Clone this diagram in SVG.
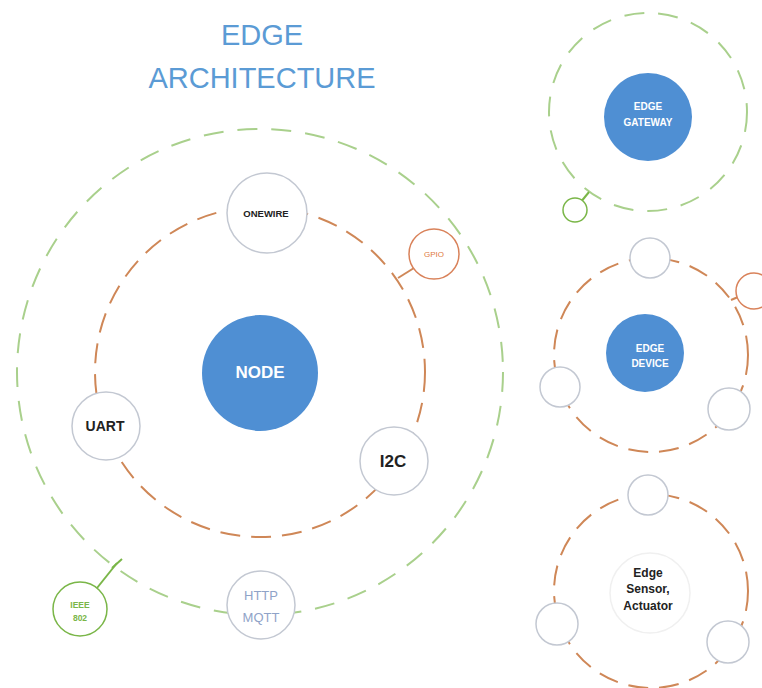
<svg xmlns="http://www.w3.org/2000/svg" width="762" height="688" viewBox="0 0 762 688">
<style>
text{font-family:"Liberation Sans",Arial,sans-serif;text-anchor:middle}
.g{fill:none;stroke:#a9d08c;stroke-width:2;stroke-dasharray:20 14}
.o{fill:none;stroke:#cf8757;stroke-width:2;stroke-dasharray:20 11}
.s{fill:#fff;stroke:#c3c8d2;stroke-width:1.5}
.b{fill:#4f8fd3}
.w{fill:#fff;font-weight:bold}
.k{fill:#222;font-weight:bold}
.c{stroke-width:2;fill:none}
</style>
<rect width="762" height="688" fill="#fff"/>
<g id="title" fill="#5b9bd5" font-size="29">
<text x="262" y="45">EDGE</text>
<text x="262" y="88">ARCHITECTURE</text>
</g>
<g id="rings">
<circle class="g" cx="260" cy="372" r="243"/>
<circle class="o" cx="260" cy="372" r="165"/>
<circle class="g" cx="648" cy="112" r="99"/>
<circle class="o" cx="651" cy="355" r="97"/>
<circle class="o" cx="651" cy="591" r="97"/>
</g>
<g id="connectors">
<line class="c" x1="398" y1="278" x2="414" y2="268" stroke="#cf8757"/>
<line class="c" x1="117" y1="563" x2="97" y2="588" stroke="#7ab648"/>
<line class="c" x1="112" y1="568" x2="122" y2="559" stroke="#7ab648"/>
<line class="c" x1="589" y1="192" x2="580" y2="203" stroke="#7ab648"/>
<line class="c" x1="731" y1="300" x2="738" y2="297" stroke="#cf8757"/>
</g>
<g id="node">
<circle class="b" cx="260" cy="373" r="58"/>
<text class="w" x="260" y="378" font-size="17">NODE</text>
</g>
<g id="onewire">
<circle class="s" cx="267" cy="213" r="40"/>
<text class="k" x="266" y="217" font-size="9.5">ONEWIRE</text>
</g>
<g id="uart">
<circle class="s" cx="106" cy="426" r="34"/>
<text class="k" x="105" y="431" font-size="14">UART</text>
</g>
<g id="i2c">
<circle class="s" cx="394" cy="461" r="34"/>
<text class="k" x="393" y="467" font-size="17">I2C</text>
</g>
<g id="gpio">
<circle cx="434" cy="254" r="25" fill="#fff" stroke="#d9825a" stroke-width="1.5"/>
<text x="434" y="257" font-size="8" fill="#e07a40">GPIO</text>
</g>
<g id="http">
<circle class="s" cx="261" cy="605" r="34"/>
<text x="261" y="600" font-size="13" fill="#8fa3c8">HTTP</text>
<text x="261" y="622" font-size="13" fill="#8fa3c8">MQTT</text>
</g>
<g id="ieee">
<circle cx="80" cy="609" r="27" fill="#fff" stroke="#7ab648" stroke-width="1.5"/>
<text x="80" y="608" font-size="8.5" font-weight="bold" fill="#7ab648">IEEE</text>
<text x="80" y="621" font-size="8.5" font-weight="bold" fill="#7ab648">802</text>
</g>
<g id="gateway">
<circle class="b" cx="648" cy="117" r="44"/>
<text class="w" x="648" y="110" font-size="10">EDGE</text>
<text class="w" x="648" y="126" font-size="10">GATEWAY</text>
<circle cx="575" cy="210" r="12" fill="#fff" stroke="#7ab648" stroke-width="1.5"/>
</g>
<g id="device">
<circle class="b" cx="645" cy="353" r="39"/>
<text class="w" x="650" y="352" font-size="10">EDGE</text>
<text class="w" x="650" y="367" font-size="10">DEVICE</text>
<circle class="s" cx="650" cy="258" r="20"/>
<circle class="s" cx="560" cy="387" r="20"/>
<circle class="s" cx="729" cy="409" r="21"/>
<circle cx="754" cy="291" r="18" fill="#fff" stroke="#d9825a" stroke-width="1.5"/>
</g>
<g id="sensor">
<circle cx="650" cy="593" r="40" fill="#fff" stroke="#f0f0f0" stroke-width="1.5"/>
<text class="k" x="648" y="577" font-size="12">Edge</text>
<text class="k" x="648" y="593" font-size="12">Sensor,</text>
<text class="k" x="648" y="610" font-size="12">Actuator</text>
<circle class="s" cx="648" cy="495" r="20"/>
<circle class="s" cx="557" cy="624" r="21"/>
<circle class="s" cx="728" cy="642" r="21"/>
</g>
</svg>
